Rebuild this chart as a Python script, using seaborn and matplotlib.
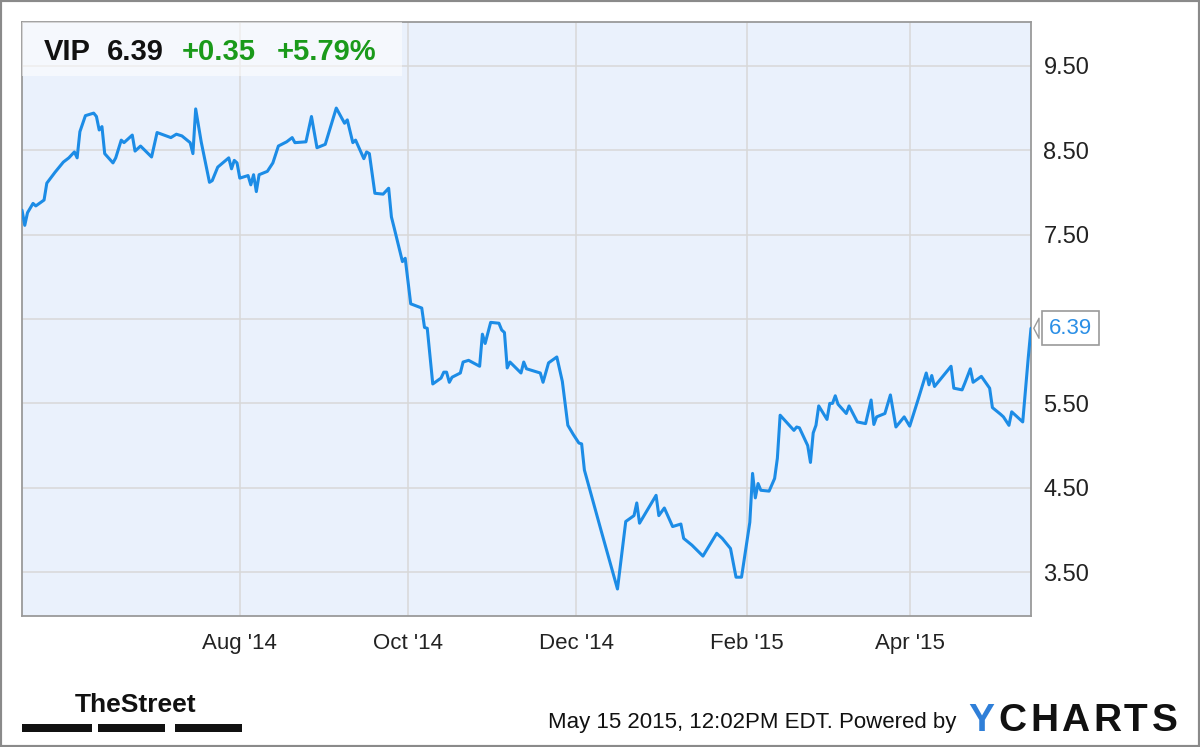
import pandas as pd
import matplotlib
matplotlib.use("Agg")
import matplotlib.pyplot as plt
from matplotlib.patches import Rectangle
import seaborn as sns

# VIP closing prices
dates = [
    "2014-05-14", "2014-05-15", "2014-05-16", "2014-05-18", "2014-05-19", "2014-05-22", "2014-05-23",
    "2014-05-26", "2014-05-29", "2014-05-31", "2014-06-02", "2014-06-03", "2014-06-04", "2014-06-06",
    "2014-06-09", "2014-06-10", "2014-06-11", "2014-06-12", "2014-06-13", "2014-06-16", "2014-06-17",
    "2014-06-19", "2014-06-20", "2014-06-23", "2014-06-24", "2014-06-26", "2014-06-30", "2014-07-02",
    "2014-07-07", "2014-07-09", "2014-07-11", "2014-07-14", "2014-07-15", "2014-07-16", "2014-07-18",
    "2014-07-21", "2014-07-22", "2014-07-24", "2014-07-28", "2014-07-29", "2014-07-30", "2014-07-31",
    "2014-08-01", "2014-08-04", "2014-08-05", "2014-08-06", "2014-08-07", "2014-08-08", "2014-08-11",
    "2014-08-13", "2014-08-15", "2014-08-18", "2014-08-20", "2014-08-21", "2014-08-25", "2014-08-27",
    "2014-08-29", "2014-09-01", "2014-09-05", "2014-09-08", "2014-09-09", "2014-09-11", "2014-09-12",
    "2014-09-15", "2014-09-16", "2014-09-17", "2014-09-19", "2014-09-22", "2014-09-24", "2014-09-25",
    "2014-09-26", "2014-09-29", "2014-09-30", "2014-10-02", "2014-10-06", "2014-10-07", "2014-10-08",
    "2014-10-10", "2014-10-13", "2014-10-14", "2014-10-15", "2014-10-16", "2014-10-17", "2014-10-20",
    "2014-10-21", "2014-10-23", "2014-10-27", "2014-10-28", "2014-10-29", "2014-10-31", "2014-11-03",
    "2014-11-04", "2014-11-05", "2014-11-06", "2014-11-07", "2014-11-11", "2014-11-12", "2014-11-13",
    "2014-11-18", "2014-11-19", "2014-11-21", "2014-11-24", "2014-11-26", "2014-11-28", "2014-11-30",
    "2014-12-02", "2014-12-03", "2014-12-04", "2014-12-10", "2014-12-16", "2014-12-19", "2014-12-22",
    "2014-12-23", "2014-12-24", "2014-12-30", "2014-12-31", "2015-01-02", "2015-01-05", "2015-01-08",
    "2015-01-09", "2015-01-12", "2015-01-16", "2015-01-21", "2015-01-23", "2015-01-26", "2015-01-28",
    "2015-01-30", "2015-02-02", "2015-02-03", "2015-02-04", "2015-02-05", "2015-02-06", "2015-02-09",
    "2015-02-11", "2015-02-12", "2015-02-13", "2015-02-18", "2015-02-19", "2015-02-20", "2015-02-23",
    "2015-02-24", "2015-02-25", "2015-02-26", "2015-02-27", "2015-03-02", "2015-03-03", "2015-03-04",
    "2015-03-05", "2015-03-06", "2015-03-09", "2015-03-10", "2015-03-13", "2015-03-16", "2015-03-18",
    "2015-03-19", "2015-03-20", "2015-03-23", "2015-03-25", "2015-03-27", "2015-03-30", "2015-04-01",
    "2015-04-04", "2015-04-07", "2015-04-08", "2015-04-09", "2015-04-10", "2015-04-16", "2015-04-17",
    "2015-04-20", "2015-04-21", "2015-04-23", "2015-04-24", "2015-04-27", "2015-04-30", "2015-05-01",
    "2015-05-04", "2015-05-05", "2015-05-07", "2015-05-08", "2015-05-12", "2015-05-14", "2015-05-15",
]
prices = [
    7.79, 7.61, 7.76, 7.87, 7.84, 7.91, 8.11,
    8.24, 8.36, 8.41, 8.48, 8.41, 8.72, 8.91,
    8.94, 8.90, 8.74, 8.78, 8.46, 8.35, 8.41,
    8.62, 8.59, 8.68, 8.49, 8.55, 8.42, 8.71,
    8.65, 8.69, 8.67, 8.59, 8.46, 8.99, 8.60,
    8.12, 8.14, 8.30, 8.41, 8.28, 8.38, 8.35,
    8.17, 8.20, 8.09, 8.21, 8.01, 8.21, 8.25,
    8.35, 8.55, 8.60, 8.65, 8.59, 8.60, 8.90,
    8.53, 8.57, 9.00, 8.82, 8.86, 8.59, 8.62,
    8.40, 8.48, 8.46, 7.99, 7.98, 8.05, 7.71,
    7.58, 7.18, 7.22, 6.68, 6.63, 6.40, 6.39,
    5.73, 5.80, 5.87, 5.87, 5.75, 5.81, 5.86,
    5.99, 6.01, 5.94, 6.32, 6.21, 6.46, 6.45,
    6.37, 6.34, 5.92, 5.99, 5.86, 5.99, 5.91,
    5.86, 5.75, 5.98, 6.05, 5.76, 5.24, 5.13,
    5.03, 5.02, 4.71, 4.00, 3.30, 4.10, 4.17,
    4.32, 4.08, 4.41, 4.17, 4.26, 4.04, 4.07,
    3.90, 3.82, 3.69, 3.96, 3.90, 3.78, 3.44,
    3.44, 4.09, 4.67, 4.38, 4.55, 4.47, 4.46,
    4.61, 4.85, 5.36, 5.18, 5.22, 5.21, 5.00,
    4.80, 5.15, 5.24, 5.47, 5.31, 5.50, 5.50,
    5.59, 5.49, 5.38, 5.47, 5.28, 5.26, 5.54,
    5.25, 5.34, 5.38, 5.60, 5.22, 5.34, 5.23,
    5.54, 5.86, 5.72, 5.83, 5.70, 5.94, 5.68,
    5.66, 5.74, 5.91, 5.75, 5.82, 5.68, 5.45,
    5.37, 5.34, 5.24, 5.40, 5.28, 6.04, 6.39,
]
ticker = "VIP"
xtick_dates = ["2014-08-01", "2014-10-01", "2014-12-01", "2015-02-01", "2015-04-01"]
xtick_labels = ["Aug '14", "Oct '14", "Dec '14", "Feb '15", "Apr '15"]
yticks = [3.5, 4.5, 5.5, 6.5, 7.5, 8.5, 9.5]
# the 6.50 label sits under the last-price callout in the original
ytick_labels = ["3.50", "4.50", "5.50", "", "7.50", "8.50", "9.50"]

df = pd.DataFrame({"date": pd.to_datetime(dates), "price": prices})

sns.set_style("white")
plt.rcParams["font.family"] = ["Liberation Sans", "DejaVu Sans"]

line_color = "#1c8ce6"
W, H = 1200, 747
fig = plt.figure(figsize=(12, 7.47), dpi=100)
ax = fig.add_axes([22 / W, 1 - 616 / H, 1009 / W, 594 / H])

sns.lineplot(data=df, x="date", y="price", ax=ax, color=line_color, linewidth=2.2, zorder=4)

ax.set_facecolor("#eaf1fc")
ax.set_xlim(df["date"].iloc[0], df["date"].iloc[-1])
ax.set_ylim(2.98, 10.02)
ax.yaxis.tick_right()
ax.set_yticks(yticks)
ax.set_yticklabels(ytick_labels)
ax.set_xticks(pd.to_datetime(xtick_dates))
ax.set_xticklabels(xtick_labels)
ax.tick_params(axis="y", length=0, pad=9, labelsize=17, labelcolor="#222222")
ax.tick_params(axis="x", length=0, pad=12, labelsize=16, labelcolor="#222222")
ax.set_xlabel("")
ax.set_ylabel("")
ax.grid(True, color="#d8d8d8", linewidth=1.1)
ax.set_axisbelow(True)
for s in ax.spines.values():
    s.set_color("#9a9a9a")
    s.set_linewidth(1.3)

# header box
ax.add_patch(Rectangle((0, 1 - 54 / 594), 380 / 1009, 54 / 594, transform=ax.transAxes,
                       facecolor="white", alpha=0.55, edgecolor="none", zorder=3))
last = prices[-1]
chg = last - prices[-2]
pct = chg / prices[-2] * 100
green = "#1a9a1a"
fig.text(44 / W, 1 - 60 / H, ticker, fontsize=21, fontweight="bold", color="#111111")
fig.text(107 / W, 1 - 60 / H, f"{last:.2f}", fontsize=21, fontweight="bold", color="#111111")
fig.text(182 / W, 1 - 60 / H, f"{chg:+.2f}", fontsize=21, fontweight="bold", color=green)
fig.text(277 / W, 1 - 60 / H, f"{pct:+.2f}%", fontsize=21, fontweight="bold", color=green)

# last value callout
ax.annotate(f"{last:.2f}", xy=(df["date"].iloc[-1], last), xytext=(13, 0),
            textcoords="offset points", ha="left", va="center", fontsize=16, color="#2b8fe6",
            bbox=dict(boxstyle="square,pad=0.3", fc="white", ec="#9a9a9a", lw=1.2),
            arrowprops=dict(arrowstyle="wedge,tail_width=0.9,shrink_factor=0.5", fc="white",
                            ec="#9a9a9a", lw=1.0),
            annotation_clip=False, zorder=10)

# footer
fig.text(548 / W, 1 - 728 / H, "May 15 2015, 12:02PM EDT. Powered by", fontsize=16, color="#111111")
fig.text(968 / W, 1 - 731 / H, "Y", fontsize=28, fontweight="bold", color="#2f7fd8")
for ch, x in zip("CHARTS", [998, 1030, 1061, 1093, 1124, 1152]):
    fig.text(x / W, 1 - 731 / H, ch, fontsize=28, fontweight="bold", color="#111111")
fig.text(75 / W, 1 - 712 / H, "TheStreet", fontsize=19, fontweight="bold", color="#111111")
for x0, x1 in [(22, 92), (98, 165), (175, 242)]:
    fig.patches.append(Rectangle((x0 / W, 1 - 732 / H), (x1 - x0) / W, 8 / H,
                                 transform=fig.transFigure, facecolor="#111111", edgecolor="none"))
fig.patches.append(Rectangle((0, 0), 1, 1, transform=fig.transFigure, fill=False,
                             edgecolor="#8a8a8a", linewidth=3))

fig.savefig("out.png", dpi=100, facecolor="white")
